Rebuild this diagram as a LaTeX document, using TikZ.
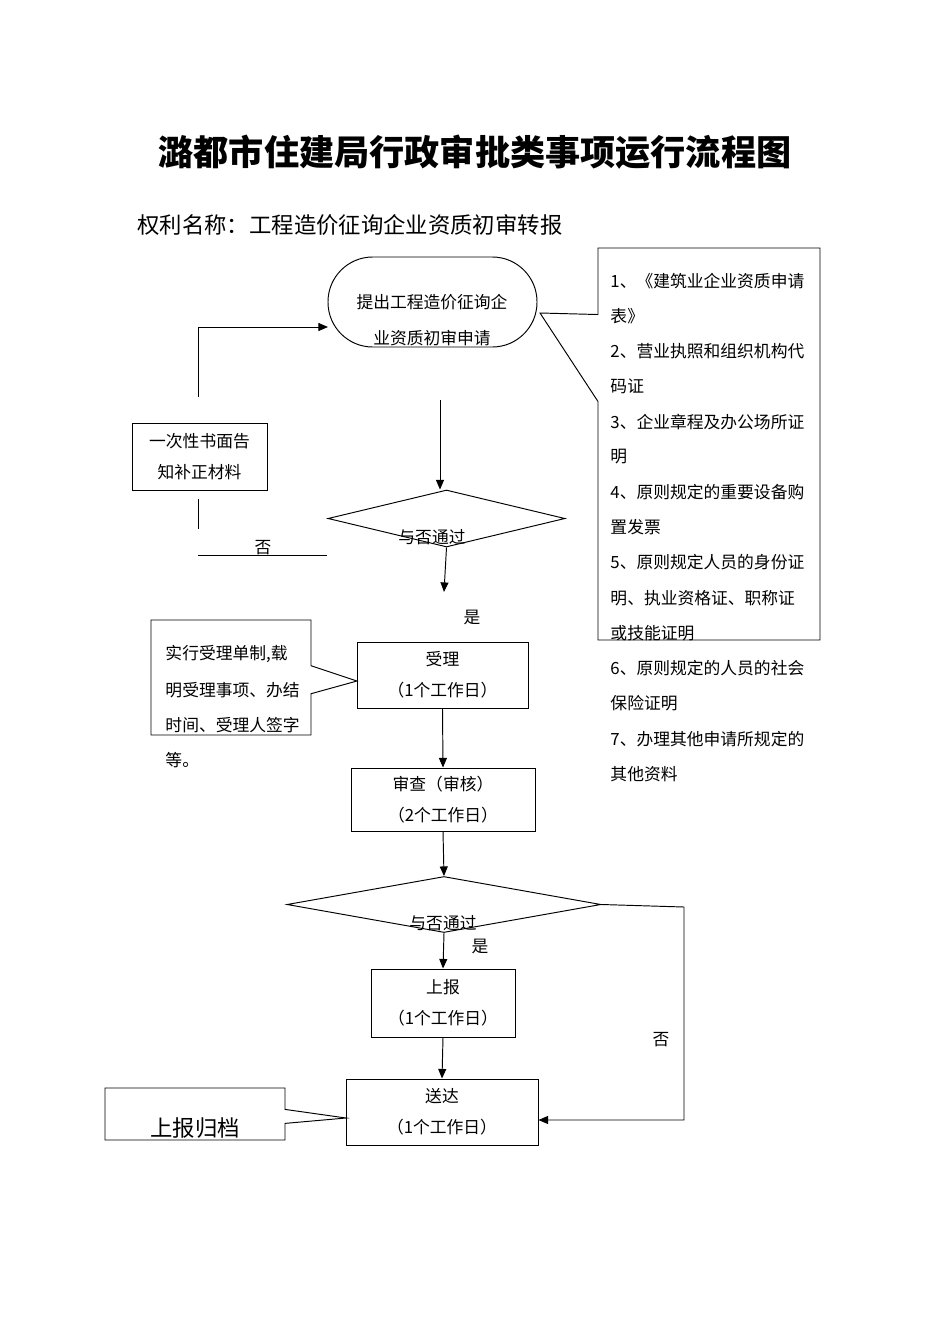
\documentclass[tikz,border=0pt]{standalone}
\usepackage{fontspec}
\setmainfont{Noto Sans CJK SC}
\usetikzlibrary{positioning,arrows.meta,shapes.geometric,shapes.callouts}
\newcommand{\px}{0.626pt}

\begin{document}
\begin{tikzpicture}[
  x=\px, y=-\px,
  line width=0.6pt,
  box/.style={draw, rectangle, inner sep=0pt, align=center, font=\fontsize{10.5pt}{19.5pt}\selectfont},
  decide/.style={draw, diamond, inner sep=0pt},
  note/.style={draw, rectangle callout, inner sep=0pt},
  txt/.style={inner sep=0pt, font=\fontsize{10.5pt}{12pt}\selectfont},
  arr/.style={-{Triangle[length=6pt,width=5pt]}}
]
\useasboundingbox (0,0) rectangle (950,1344);

% headings
\node[font=\fontsize{22pt}{26pt}\selectfont\bfseries] (title) at (475,152) {潞都市住建局行政审批类事项运行流程图};
\node[inner sep=0pt, anchor=west, font=\fontsize{14pt}{16pt}\selectfont] (power) at (137,225) {权利名称：工程造价征询企业资质初审转报};

% application
\node[draw, rounded corners=28pt, minimum width=209*\px, minimum height=90*\px] (apply) at (432.5,302) {};
\node[txt, align=center, font=\fontsize{10.5pt}{22.5pt}\selectfont] (applytxt) at (432,320) {提出工程造价征询企\\业资质初审申请};

% list of documents
\node[note, minimum width=222*\px, minimum height=392*\px, callout absolute pointer={(540,313)}, callout pointer width=87*\px] (docs) at (709,444) {};
\foreach \entry [count=\i] in {1、《建筑业企业资质申请, 表》, 2、营业执照和组织机构代, 码证, 3、企业章程及办公场所证, 明, 4、原则规定的重要设备购, 置发票, 5、原则规定人员的身份证, 明、执业资格证、职称证, 或技能证明, 6、原则规定的人员的社会, 保险证明, 7、办理其他申请所规定的, 其他资料}
  \node[txt, anchor=west] (doc\i) at (610,281+35.2*\i-35.2) {\entry};

% supplement
\node[box, minimum width=135*\px, minimum height=67*\px] (supp) at (199.5,456.5) {一次性书面告\\知补正材料};

% first check
\node[decide, minimum width=237*\px, minimum height=57*\px] (check1) at (446.5,518.5) {};
\node[txt] (pass1) at (432,537) {与否通过};
\node[txt] (no1) at (263,548) {否};
\node[txt] (yes1txt) at (472,617) {是};

% accept
\node[box, minimum width=171*\px, minimum height=66*\px] (accept) at (442.5,675) {受理\\（1个工作日）};
\node[note, minimum width=160*\px, minimum height=115*\px, callout absolute pointer={(357,681)}, callout pointer width=28*\px] (slip) at (231,677.5) {};
\node[txt, anchor=west] (slip1) at (165,654) {实行受理单制,载};
\node[txt, anchor=west] (slip2) at (165,690) {明受理事项、办结};
\node[txt, anchor=west] (slip3) at (165,725) {时间、受理人签字};
\node[txt, anchor=west] (slip4) at (165,760) {等。};

% review
\node[box, minimum width=184*\px, minimum height=63*\px] (review) at (443,799.5) {审查（审核）\\（2个工作日）};

% second check
\node[decide, minimum width=314*\px, minimum height=56*\px] (check2) at (444,904.5) {};
\node[txt] (pass2) at (443,923) {与否通过};
\node[txt] (yes2txt) at (480,946) {是};
\node[txt] (no2) at (661,1040) {否};

% report and delivery
\node[box, minimum width=144*\px, minimum height=68*\px] (report) at (443,1003) {上报\\（1个工作日）};
\node[box, minimum width=192*\px, minimum height=66*\px] (deliver) at (442,1112) {送达\\（1个工作日）};
\node[note, minimum width=180*\px, minimum height=52*\px, callout absolute pointer={(346,1118)}, callout pointer width=14*\px] (archive) at (195,1114) {};
\node[inner sep=0pt, font=\fontsize{14pt}{16pt}\selectfont] (archivetxt) at (195,1128) {上报归档};

% connectors
\coordinate (backlow) at (198,397);
\coordinate (backin) at (328,327);
\draw[arr] (backlow) |- (backin);
\coordinate (backtop) at (198,499);
\coordinate (backbot) at (198,529);
\draw (backtop) -- (backbot);
\coordinate (noleft) at (198,555);
\coordinate (noright) at (327,555);
\draw (noright) -- (noleft);
\coordinate (down1) at (440,400);
\draw[arr] (down1) -- (down1 |- check1.north);
\coordinate (yes1) at (444,592);
\draw[arr] (check1.south) -- (yes1);
\draw[arr] (accept.south) -- (review.north);
\draw[arr] (review.south) -- (check2.north);
\draw[arr] (check2.south) -- (report.north);
\draw[arr] (report.south) -- (deliver.north);
\coordinate (noturn) at (684,907);
\draw[arr] (check2.east) -- (noturn) |- ([yshift=-5pt]deliver.east);
\end{tikzpicture}
\end{document}
